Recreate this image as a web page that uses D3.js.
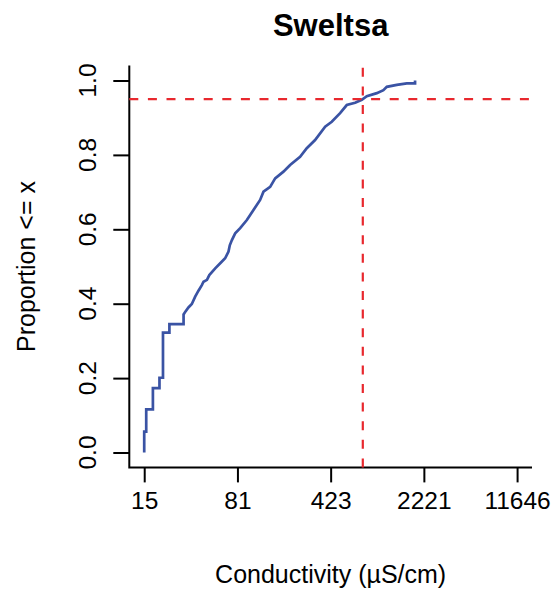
<!DOCTYPE html>
<html>
<head>
<meta charset="utf-8">
<script src="https://cdn.jsdelivr.net/npm/d3@7"></script>
<style>
  html, body { margin: 0; padding: 0; background: #fff; }
  svg { display: block; }
  text { font-family: "Liberation Sans", Arial, sans-serif; fill: #000; }
</style>
</head>
<body>
<svg id="chart" width="557" height="591"></svg>
<script>
// ---- data ----
const title = "Sweltsa";
const xLabel = "Conductivity (\u00B5S/cm)";
const yLabel = "Proportion <= x";
// traced vertices of the empirical CDF curve
const conductivity = [15.4, 15.4, 15.96, 15.96, 17.97, 17.97, 20.2, 20.2, 21.5, 21.5, 24.1, 24.1,
  31, 31, 31.9, 33.8, 35.9, 38.1, 40.4, 42.9, 44.2, 47, 49, 54.4, 60, 64.9, 68.9, 70.5, 73.2,
  77.6, 84.8, 95.5, 107.4, 120.9, 128.3, 144.5, 157.9, 183, 206, 246, 277, 321, 384, 432, 501,
  564, 654, 737, 805, 962, 1082, 1149, 1372, 1639, 1899, 1899];
const proportion = [0, 0.056, 0.056, 0.116, 0.116, 0.173, 0.173, 0.201, 0.201, 0.322, 0.322, 0.345,
  0.345, 0.371, 0.378, 0.39, 0.399, 0.419, 0.435, 0.45, 0.459, 0.464, 0.477, 0.495, 0.51, 0.522, 0.54, 0.557, 0.571,
  0.589, 0.603, 0.625, 0.652, 0.679, 0.701, 0.714, 0.737, 0.755, 0.773, 0.795, 0.818, 0.840, 0.876, 0.889, 0.912,
  0.934, 0.940, 0.948, 0.958, 0.966, 0.974, 0.983, 0.988, 0.992, 0.992, 1.0];
const xTickValues = [15.4, 80.76, 423.5, 2220.8, 11646];
const xTickLabels = ["15", "81", "423", "2221", "11646"];
const yTickValues = [0, 0.2, 0.4, 0.6, 0.8, 1.0];
const yTickLabels = ["0.0", "0.2", "0.4", "0.6", "0.8", "1.0"];
const refProportion = 0.95;
const refConductivity = 750;

// ---- layout ----
const plot = { left: 129.3, right: 532, top: 65.6, bottom: 467.4 };
const svg = d3.select("#chart");

const lmin = Math.log10(xTickValues[0]), lmax = Math.log10(xTickValues[xTickValues.length - 1]);
const pad = (lmax - lmin) * 0.04;
const x = d3.scaleLog().domain([Math.pow(10, lmin - pad), Math.pow(10, lmax + pad)]).range([plot.left, plot.right]);
const y = d3.scaleLinear().domain([-0.04, 1.04]).range([plot.bottom, plot.top]);

const tickFont = 24.5;
const labelFont = 25;

// axes
const xAxis = d3.axisBottom(x).tickValues(xTickValues)
  .tickFormat((d, i) => xTickLabels[i]).tickSizeOuter(0).tickSizeInner(15).tickPadding(9);
const gx = svg.append("g").attr("transform", `translate(0,${plot.bottom})`).call(xAxis);
gx.select(".domain").remove();
gx.selectAll(".tick line").attr("stroke", "#000").attr("stroke-width", 2);
gx.selectAll(".tick text").attr("font-size", tickFont).attr("font-family", "Liberation Sans").attr("fill", "#000");

const yAxis = d3.axisLeft(y).tickValues(yTickValues)
  .tickFormat((d, i) => yTickLabels[i]).tickSizeOuter(0).tickSizeInner(16);
const gy = svg.append("g").attr("transform", `translate(${plot.left},0)`).call(yAxis);
gy.select(".domain").remove();
gy.selectAll(".tick line").attr("stroke", "#000").attr("stroke-width", 2);
gy.selectAll(".tick text").remove();
yTickValues.forEach((v, i) => {
  svg.append("text")
    .attr("transform", `translate(${plot.left - 33},${y(v)}) rotate(-90)`)
    .attr("text-anchor", "middle")
    .attr("font-size", tickFont)
    .text(yTickLabels[i]);
});

// L-shaped box
svg.append("path")
  .attr("d", `M${plot.left},${plot.top}V${plot.bottom}H${plot.right}`)
  .attr("fill", "none").attr("stroke", "#000").attr("stroke-width", 2);

// ECDF line
const line = d3.line().x((d, i) => x(conductivity[i])).y((d, i) => y(proportion[i]));
svg.append("path")
  .datum(conductivity)
  .attr("d", line)
  .attr("fill", "none")
  .attr("stroke", "#3A53A4")
  .attr("stroke-width", 2.7)
  .attr("stroke-linejoin", "miter");

// reference lines
svg.append("line")
  .attr("x1", plot.left).attr("x2", plot.right)
  .attr("y1", y(refProportion)).attr("y2", y(refProportion))
  .attr("stroke", "#E8282E").attr("stroke-width", 2.2).attr("stroke-dasharray", "9,9.6");
svg.append("line")
  .attr("x1", x(refConductivity)).attr("x2", x(refConductivity))
  .attr("y1", plot.bottom).attr("y2", plot.top)
  .attr("stroke", "#E8282E").attr("stroke-width", 2.2).attr("stroke-dasharray", "9,9.6");

// title & labels
const cx = (plot.left + plot.right) / 2;
svg.append("text").attr("x", cx).attr("y", 36).attr("text-anchor", "middle")
  .attr("font-size", 31).attr("font-weight", "bold").text(title);
svg.append("text").attr("x", cx).attr("y", 583).attr("text-anchor", "middle")
  .attr("font-size", labelFont).text(xLabel);
svg.append("text")
  .attr("transform", `translate(35,${(plot.top + plot.bottom) / 2}) rotate(-90)`)
  .attr("text-anchor", "middle").attr("font-size", labelFont).text(yLabel);
</script>
</body>
</html>
